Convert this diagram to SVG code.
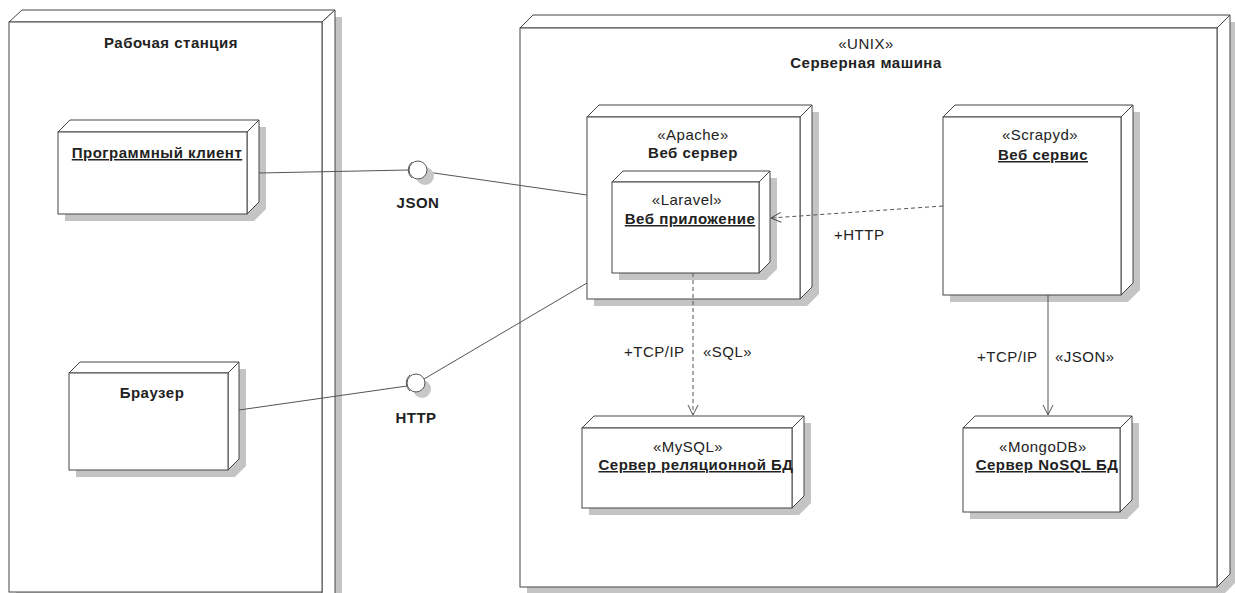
<svg xmlns="http://www.w3.org/2000/svg" width="1235" height="593" viewBox="0 0 1235 593">
<style>
.sh{fill:#c4c4c4;stroke:none}
.f{fill:#fff;stroke:#444;stroke-width:1}
text{font-family:"Liberation Sans",Arial,sans-serif;fill:#222;font-size:15px;letter-spacing:0.5px}
.b{font-weight:bold}
.u{text-decoration:underline}
.c{text-anchor:middle}
.ln{fill:none;stroke:#555;stroke-width:1}
.dash{stroke-dasharray:4 3}
</style>
<defs>
<marker id="open" viewBox="0 0 12 12" refX="11" refY="6" markerWidth="12" markerHeight="12" markerUnits="userSpaceOnUse" orient="auto">
<path d="M1,1 L11,6 L1,11" fill="none" stroke="#555" stroke-width="1"/>
</marker>
</defs>
<rect width="1235" height="593" fill="#fff"/>

<g id="workstation">
<polygon class="sh" points="16,29 29,17 342,17 342,604 329,617 16,617"/>
<polygon class="f" points="9,22 22,10 335,10 322,22"/>
<polygon class="f" points="322,22 335,10 335,597 322,609"/>
<rect class="f" x="9" y="22" width="313" height="570"/>
<text class="b c" x="171" y="48">Рабочая станция</text>
</g>

<g id="server">
<polygon class="sh" points="527,35 540,22 1237,22 1237,581 1224,594 527,594"/>
<polygon class="f" points="520,28 533,15 1230,15 1217,28"/>
<polygon class="f" points="1217,28 1230,15 1230,574 1217,587"/>
<rect class="f" x="520" y="28" width="697" height="559"/>
<text class="c" x="866" y="49">«UNIX»</text>
<text class="b c" x="866" y="68">Серверная машина</text>
</g>

<g id="client">
<polygon class="sh" points="65,139 77,127 266,127 266,209 254,221 65,221"/>
<polygon class="f" points="58,132 70,120 259,120 247,132"/>
<polygon class="f" points="247,132 259,120 259,202 247,214"/>
<rect class="f" x="58" y="132" width="189" height="82"/>
<text class="b u c" x="157" y="158">Программный клиент</text>
</g>

<g id="browser">
<polygon class="sh" points="76,380 87,369 246,369 246,466 235,477 76,477"/>
<polygon class="f" points="69,373 80,362 239,362 228,373"/>
<polygon class="f" points="228,373 239,362 239,459 228,470"/>
<rect class="f" x="69" y="373" width="159" height="97"/>
<text class="b c" x="152" y="398">Браузер</text>
</g>

<g id="apache">
<polygon class="sh" points="594,124 606,112 819,112 819,294 807,306 594,306"/>
<polygon class="f" points="587,117 599,105 812,105 800,117"/>
<polygon class="f" points="800,117 812,105 812,287 800,299"/>
<rect class="f" x="587" y="117" width="213" height="182"/>
<text class="c" x="693" y="140">«Apache»</text>
<text class="b c" x="693" y="158">Веб сервер</text>
</g>

<g id="laravel">
<polygon class="sh" points="619,189 630,178 777,178 777,269 766,280 619,280"/>
<polygon class="f" points="612,182 623,171 770,171 759,182"/>
<polygon class="f" points="759,182 770,171 770,262 759,273"/>
<rect class="f" x="612" y="182" width="147" height="91"/>
<text class="c" x="687" y="205">«Laravel»</text>
<text class="b u c" x="690" y="224">Веб приложение</text>
</g>

<g id="scrapyd">
<polygon class="sh" points="950,124 962,112 1140,112 1140,290 1128,302 950,302"/>
<polygon class="f" points="943,117 955,105 1133,105 1121,117"/>
<polygon class="f" points="1121,117 1133,105 1133,283 1121,295"/>
<rect class="f" x="943" y="117" width="178" height="178"/>
<text class="c" x="1040" y="140">«Scrapyd»</text>
<text class="b u c" x="1043" y="160">Веб сервис</text>
</g>

<g id="mysql">
<polygon class="sh" points="589,435 601,423 811,423 811,503 799,515 589,515"/>
<polygon class="f" points="582,428 594,416 804,416 792,428"/>
<polygon class="f" points="792,428 804,416 804,496 792,508"/>
<rect class="f" x="582" y="428" width="210" height="80"/>
<text class="c" x="688" y="452">«MySQL»</text>
<text class="b u c" x="696" y="470">Сервер реляционной БД</text>
</g>

<g id="mongodb">
<polygon class="sh" points="970,435 982,423 1139,423 1139,507 1127,519 970,519"/>
<polygon class="f" points="963,428 975,416 1132,416 1120,428"/>
<polygon class="f" points="1120,428 1132,416 1132,500 1120,512"/>
<rect class="f" x="963" y="428" width="157" height="84"/>
<text class="c" x="1043" y="452">«MongoDB»</text>
<text class="b u c" x="1047" y="470">Сервер NoSQL БД</text>
</g>

<g id="connectors">
<line class="ln" x1="259" y1="173" x2="409" y2="170"/>
<line class="ln" x1="427" y1="172" x2="587" y2="195"/>
<line class="ln" x1="239" y1="410" x2="407" y2="386"/>
<line class="ln" x1="424" y1="379" x2="587" y2="283"/>
<line class="ln dash" x1="943" y1="206" x2="771" y2="218" marker-end="url(#open)"/>
<line class="ln dash" x1="693" y1="273" x2="693" y2="415" marker-end="url(#open)"/>
<line class="ln" x1="1048" y1="295" x2="1048" y2="415" marker-end="url(#open)"/>
<text x="834" y="240">+HTTP</text>
<text x="624" y="357">+TCP/IP</text>
<text x="703" y="357">«SQL»</text>
<text x="977" y="362">+TCP/IP</text>
<text x="1055" y="362">«JSON»</text>
</g>

<g id="iface-json">
<circle cx="425" cy="176" r="9" fill="#c8c8c8"/>
<circle cx="418" cy="170" r="9" fill="#fff" stroke="#555"/>
<path d="M412,162 A10.5,10.5 0 0 0 412,178" fill="none" stroke="#555"/>
<text class="b c" x="418" y="208">JSON</text>
</g>

<g id="iface-http">
<circle cx="422" cy="389" r="9" fill="#c8c8c8"/>
<circle cx="416" cy="383" r="9" fill="#fff" stroke="#555"/>
<path d="M410,375 A10.5,10.5 0 0 0 410,391" fill="none" stroke="#555"/>
<text class="b c" x="416" y="423">HTTP</text>
</g>
</svg>
